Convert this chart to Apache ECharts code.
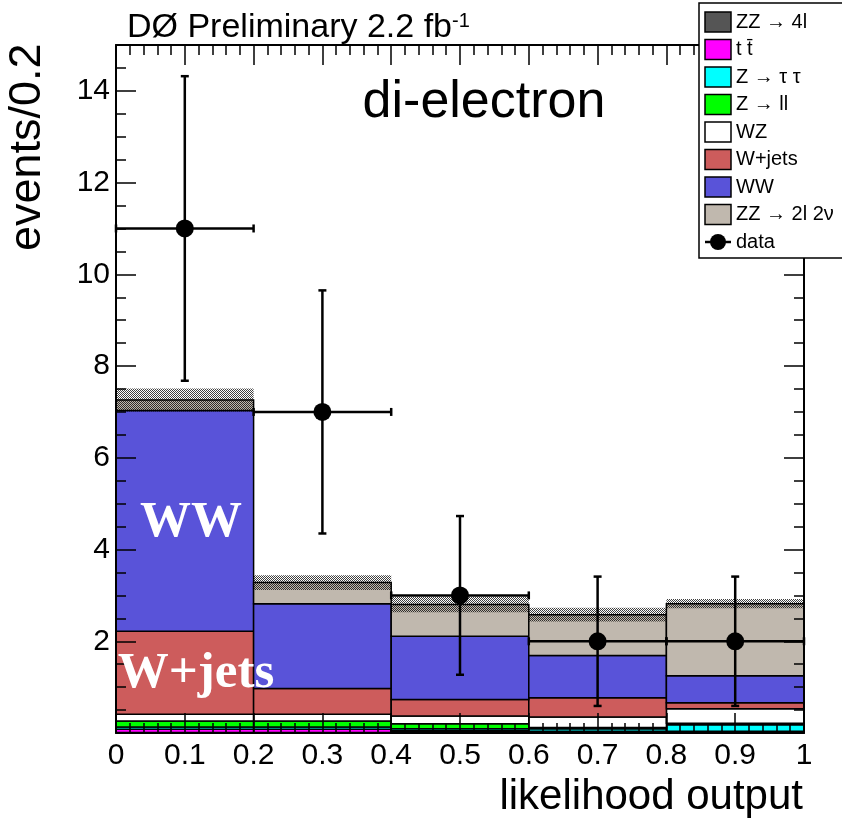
<!DOCTYPE html>
<html><head><meta charset="utf-8">
<script src="https://cdn.jsdelivr.net/npm/echarts@6/dist/echarts.min.js"></script>
<style>html,body{margin:0;padding:0;background:#fff}#c{width:842px;height:820px}</style>
</head><body><div id="c"></div>
<script>
// ---- data ----
const binEdges = [0, 0.2, 0.4, 0.6, 0.8, 1.0];
const zz4l    = [0.01, 0.01, 0.02, 0.02, 0.03];
const ttbar   = [0.07, 0.07, 0.03, 0.02, 0.01];
const ztautau = [0.05, 0.05, 0.04, 0.05, 0.14];
const zll     = [0.13, 0.13, 0.11, 0.03, 0.03];
const wz      = [0.15, 0.15, 0.17, 0.23, 0.32];
const wjets   = [1.81, 0.56, 0.36, 0.42, 0.13];
const ww      = [4.81, 1.85, 1.38, 0.92, 0.59];
const zz2l2v  = [0.23, 0.46, 0.69, 0.89, 1.57];
const mcErr   = [0.25, 0.16, 0.17, 0.15, 0.10];
const dataX   = [0.1, 0.3, 0.5, 0.7, 0.9];
const dataY   = [11, 7, 3, 2, 2];
const dataErrLow  = [3.32, 2.65, 1.73, 1.41, 1.41];
const dataErrHigh = [3.32, 2.65, 1.73, 1.41, 1.41];
const dataXErr    = [0.1, 0.1, 0.1, 0.1, 0.1];
const legendLabels = ['ZZ \u2192 4l', 't t\u0304', 'Z \u2192 \u03c4 \u03c4', 'Z \u2192 ll', 'WZ', 'W+jets', 'WW', 'ZZ \u2192 2l 2\u03bd', 'data'];
const titleText = 'D\u00d8 Preliminary 2.2 fb';
const channelText = 'di-electron';
const xAxisTitle = 'likelihood output';
const yAxisTitle = 'events/0.2';

// ---- styling ----
const layers = [
  {name: legendLabels[0], vals: zz4l,    color: '#555555'},
  {name: legendLabels[1], vals: ttbar,   color: '#ff00ff'},
  {name: legendLabels[2], vals: ztautau, color: '#00ffff'},
  {name: legendLabels[3], vals: zll,     color: '#00ff00'},
  {name: legendLabels[4], vals: wz,      color: '#ffffff'},
  {name: legendLabels[5], vals: wjets,   color: '#cd5c5c'},
  {name: legendLabels[6], vals: ww,      color: '#5953d9'},
  {name: legendLabels[7], vals: zz2l2v,  color: '#c0b8ae'}
];
const FONT = '"Liberation Sans", Arial, sans-serif';
const SERIF = '"Liberation Serif", "Times New Roman", serif';

// hatch pattern for MC uncertainty band
const pat = document.createElement('canvas');
pat.width = 2; pat.height = 2;
const pctx = pat.getContext('2d');
pctx.fillStyle = 'rgba(0,0,0,0.75)';
pctx.fillRect(0, 0, 1, 1);
pctx.fillRect(1, 1, 1, 1);

const nb = dataY.length;
const cum = new Array(nb).fill(0);
const series = [];
layers.forEach(function (L) {
  const data = [];
  for (let i = 0; i < nb; i++) {
    data.push([binEdges[i], binEdges[i + 1], cum[i], cum[i] + L.vals[i]]);
    cum[i] += L.vals[i];
  }
  series.push({
    type: 'custom', name: L.name, z: 2, clip: true,
    encode: {x: [0, 1], y: [2, 3]},
    data: data,
    renderItem: function (params, api) {
      const p0 = api.coord([api.value(0), api.value(3)]);
      const p1 = api.coord([api.value(1), api.value(2)]);
      return {type: 'rect', shape: {x: p0[0], y: p0[1], width: p1[0] - p0[0], height: p1[1] - p0[1]},
        style: {fill: L.color, stroke: '#000', lineWidth: 1.5}};
    }
  });
});
// uncertainty band
const bandData = [];
for (let i = 0; i < nb; i++) bandData.push([binEdges[i], binEdges[i + 1], cum[i] - mcErr[i], cum[i] + mcErr[i]]);
series.push({
  type: 'custom', name: 'uncertainty', z: 3, clip: true,
  encode: {x: [0, 1], y: [2, 3]}, data: bandData,
  renderItem: function (params, api) {
    const p0 = api.coord([api.value(0), api.value(3)]);
    const p1 = api.coord([api.value(1), api.value(2)]);
    return {type: 'rect', shape: {x: p0[0], y: p0[1], width: p1[0] - p0[0], height: p1[1] - p0[1]},
      style: {fill: {image: pat, repeat: 'repeat'}, stroke: null}};
  }
});
// data points
const pts = [];
for (let i = 0; i < nb; i++) pts.push([dataX[i], dataY[i], dataY[i] - dataErrLow[i], dataY[i] + dataErrHigh[i], dataX[i] - dataXErr[i], dataX[i] + dataXErr[i]]);
series.push({
  type: 'custom', name: 'data', z: 20, clip: false,
  encode: {x: 0, y: 1}, data: pts,
  renderItem: function (params, api) {
    const c = api.coord([api.value(0), api.value(1)]);
    const lo = api.coord([api.value(0), api.value(2)]);
    const hi = api.coord([api.value(0), api.value(3)]);
    const l = api.coord([api.value(4), api.value(1)]);
    const r = api.coord([api.value(5), api.value(1)]);
    const ls = {stroke: '#000', lineWidth: 2.5};
    const cap = 4;
    return {type: 'group', children: [
      {type: 'line', shape: {x1: c[0], y1: lo[1], x2: c[0], y2: hi[1]}, style: ls},
      {type: 'line', shape: {x1: c[0] - cap, y1: lo[1], x2: c[0] + cap, y2: lo[1]}, style: ls},
      {type: 'line', shape: {x1: c[0] - cap, y1: hi[1], x2: c[0] + cap, y2: hi[1]}, style: ls},
      {type: 'line', shape: {x1: l[0], y1: c[1], x2: r[0], y2: c[1]}, style: ls},
      {type: 'line', shape: {x1: l[0], y1: c[1] - cap, x2: l[0], y2: c[1] + cap}, style: ls},
      {type: 'line', shape: {x1: r[0], y1: c[1] - cap, x2: r[0], y2: c[1] + cap}, style: ls},
      {type: 'circle', shape: {cx: c[0], cy: c[1], r: 9}, style: {fill: '#000'}}
    ]};
  }
});

const axLine = {show: true, onZero: false, lineStyle: {color: '#000', width: 2}};
function xAx(pos, labels) {
  return {type: 'value', position: pos, min: 0, max: 1, interval: 0.1, z: 10,
    axisLine: axLine, splitLine: {show: false},
    axisTick: {show: true, inside: true, length: 20, lineStyle: {color: '#000', width: 1.5}},
    minorTick: {show: true, splitNumber: 5, length: 10, lineStyle: {color: '#000', width: 1.5}},
    axisLabel: {show: labels, margin: 8, fontSize: 30, color: '#000', fontFamily: FONT}};
}
function yAx(pos, labels) {
  return {type: 'value', position: pos, min: 0, max: 15, interval: 2, z: 10,
    axisLine: axLine, splitLine: {show: false},
    axisTick: {show: true, inside: true, length: 20, lineStyle: {color: '#000', width: 1.5}},
    minorTick: {show: true, splitNumber: 4, length: 10, lineStyle: {color: '#000', width: 1.5}},
    axisLabel: {show: labels, margin: 6, fontSize: 30, color: '#000', fontFamily: FONT,
      formatter: function (v) { return (v > 0 && v % 2 === 0) ? String(v) : ''; }}};
}

// legend graphics
const legendG = [{type: 'rect', shape: {x: 699, y: 3, width: 170, height: 255}, style: {fill: '#fff', stroke: '#000', lineWidth: 1.5}, z: 100}];
const legendY0 = 22, legendDy = 27.5;
layers.forEach(function (L, i) {
  const y = legendY0 + i * legendDy;
  legendG.push({type: 'rect', shape: {x: 705, y: y - 10, width: 26, height: 20}, style: {fill: L.color, stroke: '#000', lineWidth: 1.5}, z: 101});
  legendG.push({type: 'text', x: 736, y: y, style: {text: L.name, font: '20px ' + FONT, fill: '#000', verticalAlign: 'middle', align: 'left'}, z: 101});
});
{
  const y = legendY0 + 8 * legendDy;
  legendG.push({type: 'line', shape: {x1: 705, y1: y, x2: 731, y2: y}, style: {stroke: '#000', lineWidth: 2.5}, z: 101});
  legendG.push({type: 'circle', shape: {cx: 718, cy: y, r: 8}, style: {fill: '#000'}, z: 102});
  legendG.push({type: 'text', x: 736, y: y, style: {text: legendLabels[8], font: '20px ' + FONT, fill: '#000', verticalAlign: 'middle', align: 'left'}, z: 101});
}

const chart = echarts.init(document.getElementById('c'), null, {renderer: 'canvas'});
chart.setOption({
  animation: false,
  backgroundColor: '#fff',
  grid: {left: 116, right: 38, top: 45, bottom: 87},
  xAxis: [xAx('bottom', true), xAx('top', false)],
  yAxis: [yAx('left', true), yAx('right', false)],
  series: series,
  graphic: legendG.concat([
    {type: 'text', x: 127, y: 28, z: 50, style: {text: '{a|' + titleText + '}{s|-1}', fill: '#000', verticalAlign: 'middle',
      rich: {a: {fontSize: 34, fontFamily: FONT}, s: {fontSize: 20, fontFamily: FONT, verticalAlign: 'top'}}}},
    {type: 'text', x: 484, y: 103, z: 50, style: {text: channelText, font: '52px ' + FONT, fill: '#000', align: 'center', verticalAlign: 'middle'}},
    {type: 'text', x: 803, y: 797, z: 50, style: {text: xAxisTitle, font: '42px ' + FONT, fill: '#000', align: 'right', verticalAlign: 'middle'}},
    {type: 'text', x: 28, y: 251, rotation: Math.PI / 2, z: 50, style: {text: yAxisTitle, font: '45px ' + FONT, fill: '#000', align: 'left', verticalAlign: 'middle'}},
    {type: 'text', x: 191, y: 523, z: 50, style: {text: 'WW', font: 'bold 51px ' + SERIF, fill: '#fff', align: 'center', verticalAlign: 'middle'}},
    {type: 'text', x: 196, y: 674, z: 50, style: {text: 'W+jets', font: 'bold 51px ' + SERIF, fill: '#fff', align: 'center', verticalAlign: 'middle'}}
  ])
});
</script>
</body></html>
